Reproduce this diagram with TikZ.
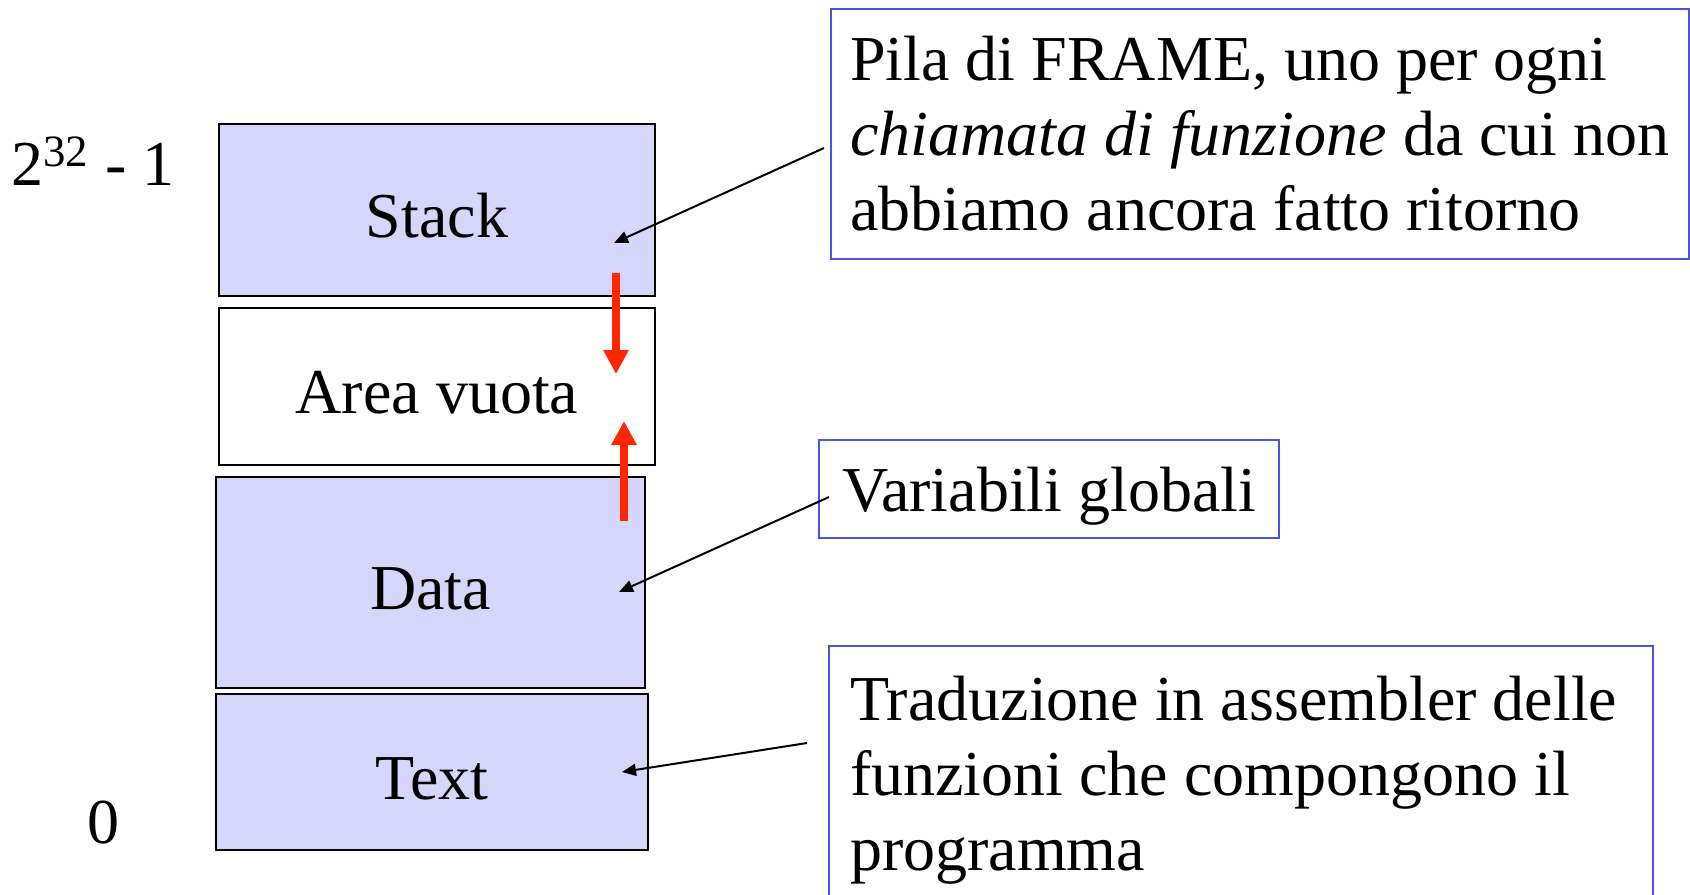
\documentclass[tikz,border=0pt]{standalone}
\usepackage{fontspec}
\setmainfont{Liberation Serif}
\usetikzlibrary{arrows.meta}
\definecolor{lavanda}{RGB}{213,214,250}
\definecolor{bordoblu}{RGB}{75,85,220}
\definecolor{rosso}{RGB}{255,38,0}
\tikzset{
  memoria/.style={draw=black,line width=1.2pt,fill=lavanda,inner sep=0pt,text height=27pt,text depth=0pt},
  nota/.style={draw=bordoblu,line width=1pt,anchor=north west,align=left,inner ysep=0pt},
  freccia/.style={line width=1pt,-{Triangle[length=7pt,width=6pt]}},
  crescita/.style={draw=rosso,line width=4pt,-{Triangle[length=12pt,width=12pt]}}
}
\begin{document}
\begin{tikzpicture}  % ------ Memoria di un processo -----------
      [x=0.5pt,y=-0.5pt,font=\fontsize{32pt}{37.5pt}\selectfont]
    \useasboundingbox (0,0) rectangle (1690,894);
    \clip (0,0) rectangle (1690,894);

    \node[memoria,minimum width=218pt,minimum height=86pt] (stack) at (437,210) {Stack};
    \node[memoria,fill=white,minimum width=218pt,minimum height=78.5pt] (vuota) at (437,386.5) {Area vuota};
    \node[memoria,minimum width=214.5pt,minimum height=105.5pt] (data) at (430.5,582.5) {Data};
    \node[memoria,minimum width=216pt,minimum height=78pt] (text) at (432,772) {Text};

    \node[anchor=base west,inner sep=0pt] (alto) at (11,185) {2\textsuperscript{32} - 1};
    \node[anchor=base,inner sep=0pt] (zero) at (103.5,843) {0};

    \node[nota,minimum width=429pt,minimum height=125pt] (pila) at (830,8)
        {Pila di FRAME, uno per ogni\\ \textit{chiamata di funzione} da cui non\\ abbiamo ancora fatto ritorno};
    \node[nota,inner xsep=11.5pt,minimum height=49pt,text depth=0pt] (glob) at (818,439) {Variabili globali};
    \node[nota,align=flush left,inner xsep=10.5pt,inner ysep=15pt,text width=391pt] (trad) at (828,645)
        {Traduzione in assembler delle\\ funzioni che compongono il\\ programma};

    \coordinate (p1) at (614,243);
    \coordinate (p2) at (619,592);
    \coordinate (p3) at (622,772);
    \draw[freccia] ([shift={(-6,140)}]pila.north west) -- (p1);
    \draw[freccia] ([shift={(11,58)}]glob.north west) -- (p2);
    \draw[freccia] ([shift={(-21,98)}]trad.north west) -- (p3);

    \coordinate (s1) at (616,273);
    \coordinate (s2) at (616,374);
    \coordinate (d1) at (624,521);
    \coordinate (d2) at (624,421);
    \draw[crescita] (s1) -- (s2);
    \draw[crescita] (d1) -- (d2);
\end{tikzpicture}
\end{document}
